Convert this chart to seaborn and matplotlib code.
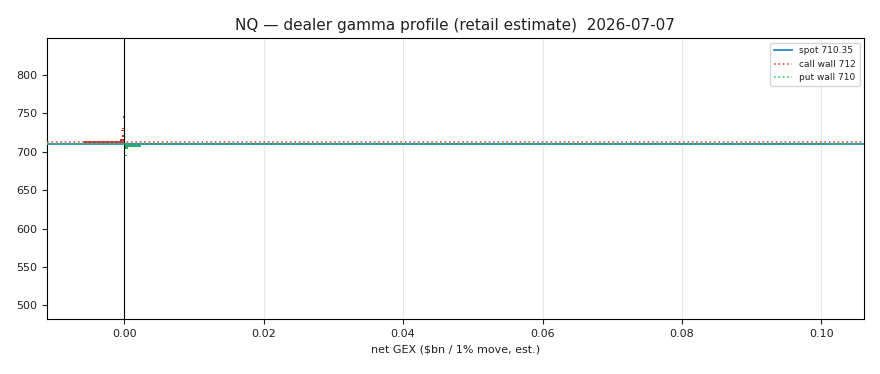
import matplotlib
matplotlib.use("Agg")
import matplotlib.pyplot as plt
import seaborn as sns
import pandas as pd

title = "NQ \u2014 dealer gamma profile (retail estimate)  2026-07-07"
xlabel = r"net GEX (\$bn / 1% move, est.)"
spot = 710.35
call_wall = 712
put_wall = 710
xticks = [0.00, 0.02, 0.04, 0.06, 0.08, 0.10]
xtick_labels = ["0.00", "0.02", "0.04", "0.06", "0.08", "0.10"]

strikes = [500, 520, 540, 560, 580, 600, 620, 640, 660, 680, 690, 695, 697.5, 700, 702.5, 705, 707.5,
           710, 712.5, 715, 717.5, 720, 722.5, 725, 727.5, 730, 735, 740, 745, 750, 760, 780, 800, 820, 830]
gex = [0.00001, 0.00001, 0.00002, 0.00001, 0.00002, 0.00003, 0.00002, 0.00003, 0.00004, 0.00005,
       0.00008, 0.0004, 0.00005, 0.0001, 0.00005, 0.0005, 0.0024,
       0.1008, -0.0058, -0.0006, -0.0001, -0.0003, -0.0001, -0.0001, -0.0005, -0.00025, -0.0001,
       -0.00008, -0.0002, -0.00005, -0.00003, -0.00002, -0.00002, -0.00001, -0.00001]

df = pd.DataFrame({"strike": strikes, "gex": gex})
df["side"] = ["pos" if v >= 0 else "neg" for v in df["gex"]]

plt.rcParams["text.color"] = "#222222"
plt.rcParams["axes.labelcolor"] = "#222222"
plt.rcParams["xtick.color"] = "#222222"
plt.rcParams["ytick.color"] = "#222222"

fig = plt.figure(figsize=(8.8, 3.74), dpi=100)
ax = fig.add_axes([0.053, 0.147, 0.929, 0.751])

sns.barplot(data=df, x="gex", y="strike", hue="side", orient="y", native_scale=True,
            palette={"pos": "#27ae60", "neg": "#c0392b"}, dodge=False, legend=False,
            saturation=1, linewidth=0, width=0.9, ax=ax, zorder=2)

ax.axvline(0, color="black", lw=0.8, zorder=3)
ax.axhline(spot, color="#2f86c0", lw=1.3, label=f"spot {spot}", zorder=4)
ax.axhline(call_wall, color="#e74c3c", lw=1.2, ls=":", label=f"call wall {call_wall}", zorder=4)
ax.axhline(put_wall, color="#2ecc71", lw=1.2, ls=":", label=f"put wall {put_wall}", zorder=4)

ax.set_xticks(xticks)
ax.set_xticklabels(xtick_labels)
ax.grid(axis="x", alpha=0.3, zorder=0)
ax.set_axisbelow(True)
ax.set_title(title, fontsize=11)
ax.set_xlabel(xlabel, fontsize=8)
ax.set_ylabel("")
ax.tick_params(labelsize=8)
ax.legend(loc="upper right", fontsize=6.5)

fig.savefig("out.png", dpi=100)
